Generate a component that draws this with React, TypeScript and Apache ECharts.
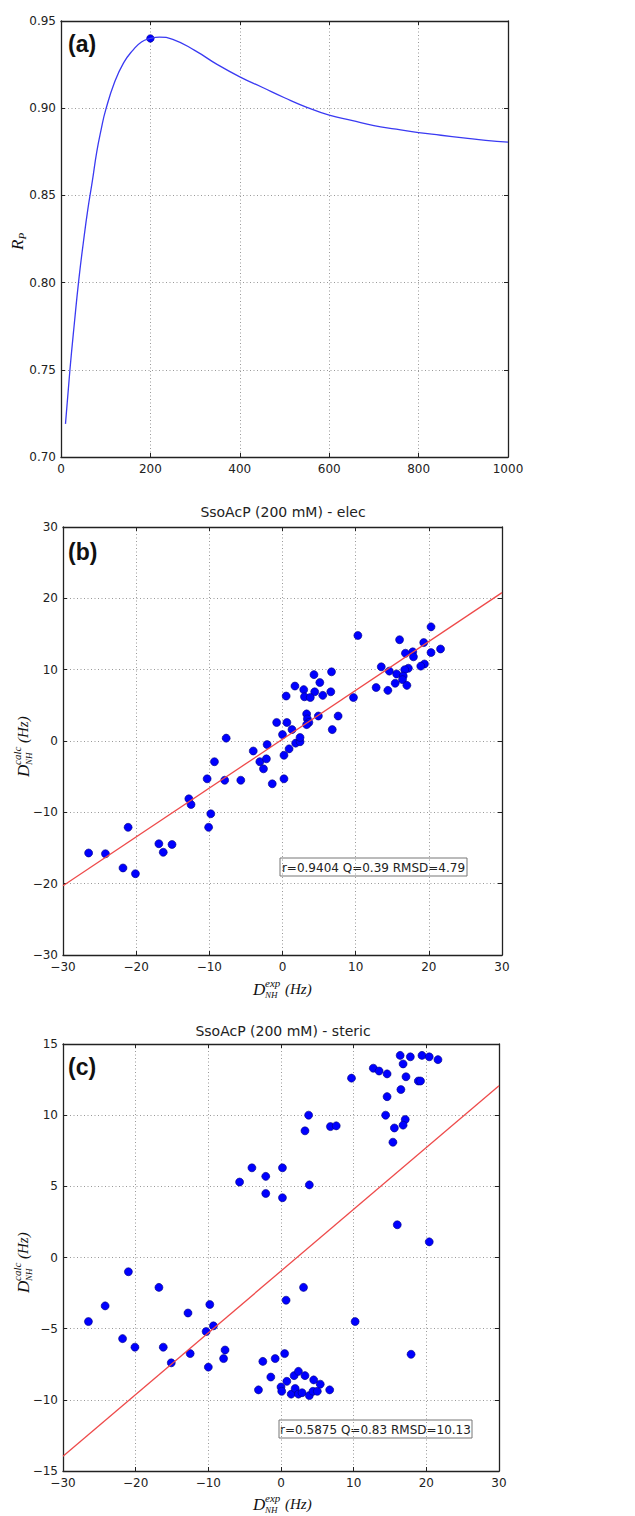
import React, { useEffect, useRef } from 'react';
import * as echarts from 'echarts';

// Panel (a): R_P curve
const rpX = [10, 20, 30, 40, 50, 60, 70, 80, 90, 100, 120, 140, 160, 180, 200, 220, 250, 300, 350, 400, 450, 500, 550, 600, 650, 700, 750, 800, 850, 900, 950, 1000];
const rpY = [0.719, 0.75, 0.777, 0.802, 0.823, 0.842, 0.858, 0.875, 0.888, 0.899, 0.915, 0.926, 0.933, 0.938, 0.940, 0.9408, 0.9395, 0.933, 0.925, 0.918, 0.912, 0.906, 0.9005, 0.896, 0.893, 0.890, 0.888, 0.886, 0.8845, 0.883, 0.8815, 0.8805];
const peakX = [200];
const peakY = [0.940];

// Panel (b): elec
const bX = [10.3, 20.3, 21.6, 20.3, 19.3, 19.4, 18.9, 16.0, 17.8, 16.8, 17.9, 17.2, 16.7, 15.6, 16.5, 16.4, 15.4, 17.0, 14.4, 13.5, 14.6, 12.8, 9.7, 6.7, 6.6, 7.6, 6.8, 4.3, 5.1, 4.4, 5.5, 2.9, 3.0, 3.8, 1.7, 0.5, 3.3, 4.9, 3.4, 3.6, 3.3, -0.8, 0.6, 1.3,
  -26.5, -24.2, -21.8, -20.1, -21.1, -16.9, -16.3, -15.1, -12.8, -12.5, -10.3, -9.8, -10.1, -9.3, -7.9, -7.7, -5.7, -4.0, -3.1, -2.2, -2.6, -2.1, -1.4, 0.0, 0.2, 0.2, 0.9, 1.8, 2.4, 2.4];
const bY = [14.8, 16.0, 12.9, 12.4, 13.8, 10.8, 10.5, 14.2, 12.5, 12.3, 11.8, 10.2, 10.0, 9.4, 9.1, 8.6, 8.1, 7.8, 7.1, 10.4, 9.8, 7.5, 6.1, 9.7, 6.9, 3.5, 1.6, 9.3, 8.2, 6.9, 6.4, 7.2, 6.2, 6.1, 7.7, 6.3, 3.8, 3.5, 3.1, 2.6, 2.3, 2.6, 2.6, 1.6,
  -15.7, -15.8, -17.8, -18.6, -12.1, -14.4, -15.6, -14.5, -8.1, -8.9, -5.3, -10.2, -12.1, -2.9, -5.5, 0.4, -5.5, -1.4, -2.9, -2.5, -3.9, -0.5, -6.0, 0.9, -2.0, -5.3, -1.1, -0.3, -0.1, 0.5];
const bFitX = [-30, 30];
const bFitY = [-20.3, 20.8];

// Panel (c): steric
const cX = [9.7, 12.7, 13.5, 14.6, 16.4, 16.8, 17.8, 19.4, 20.4, 21.6, 17.2, 18.9, 19.2, 16.5, 14.6, 14.4, 17.1, 15.6, 16.8, 15.4, 16.0, 20.4, 3.8, 3.3, 6.8, 7.6, 3.9, -5.7, -4.0, -2.1, -2.1, 0.2, 0.2,
  -26.5, -24.2, -21.8, -20.1, -21.0, -16.8, -16.2, -15.1, -12.8, -12.5, -10.3, -9.8, -9.3, -10.0, -7.7, -7.9, -3.1, -2.5, -1.4, -0.8, 0.0, 0.1, 0.5, 0.7, 3.1, 0.8, 1.4, 1.8, 1.95, 2.4, 2.4, 2.9, 3.3, 3.9, 4.5, 4.4, 5.0, 5.4, 6.7, 10.2, 17.9];
const cY = [12.6, 13.3, 13.1, 12.9, 14.2, 13.6, 14.1, 14.2, 14.1, 13.9, 12.7, 12.4, 12.4, 11.8, 11.3, 10.0, 9.7, 9.1, 9.3, 8.1, 2.3, 1.1, 10.0, 8.9, 9.2, 9.25, 5.1, 5.3, 6.3, 5.7, 4.5, 6.3, 4.2,
  -4.5, -3.4, -5.7, -6.3, -1.0, -2.1, -6.3, -7.4, -3.9, -6.75, -5.2, -3.3, -4.8, -7.7, -6.5, -7.1, -9.3, -7.3, -8.4, -7.1, -9.1, -9.4, -6.75, -3.0, -2.1, -8.7, -9.6, -8.3, -9.2, -8.0, -9.6, -9.5, -8.3, -9.7, -8.6, -9.4, -9.4, -8.9, -9.3, -4.5, -6.8];
const cFitX = [-30, 30];
const cFitY = [-13.97, 12.07];

const titleB = 'SsoAcP (200 mM) - elec';
const titleC = 'SsoAcP (200 mM) - steric';
const statsB = 'r=0.9404 Q=0.39 RMSD=4.79';
const statsC = 'r=0.5875 Q=0.83 RMSD=10.13';

const zip = (xs: number[], ys: number[]) => xs.map((x, i) => [x, ys[i]]);
const minus = (v: number, d = 0) => (d ? v.toFixed(d) : String(v)).replace('-', '\u2212');

const AX = '#222';
const TICK_FONT = { fontFamily: 'DejaVu Sans', fontSize: 12, color: '#222' };

function mainX(gi: number, min: number, max: number, interval: number, dec = 0) {
  return {
    type: 'value', gridIndex: gi, min, max, interval, position: 'bottom',
    axisLine: { show: true, onZero: false, lineStyle: { color: AX, width: 1.3 } },
    axisTick: { show: true, inside: true, length: 4, lineStyle: { color: AX } },
    axisLabel: { ...TICK_FONT, margin: 6, formatter: (v: number) => minus(v, dec) },
    splitLine: { show: true, lineStyle: { color: '#999', type: [1, 2.5], width: 1 } },
  };
}
function mainY(gi: number, min: number, max: number, interval: number, dec = 0) {
  return {
    type: 'value', gridIndex: gi, min, max, interval, position: 'left',
    axisLine: { show: true, onZero: false, lineStyle: { color: AX, width: 1.3 } },
    axisTick: { show: true, inside: true, length: 4, lineStyle: { color: AX } },
    axisLabel: { ...TICK_FONT, margin: 5, formatter: (v: number) => minus(v, dec) },
    splitLine: { show: true, lineStyle: { color: '#999', type: [1, 2.5], width: 1 } },
  };
}
function sideX(gi: number, min: number, max: number, interval: number) {
  return {
    type: 'value', gridIndex: gi, min, max, interval, position: 'top',
    axisLine: { show: true, onZero: false, lineStyle: { color: AX, width: 1.3 } },
    axisTick: { show: true, inside: true, length: 4, lineStyle: { color: AX } },
    axisLabel: { show: false }, splitLine: { show: false },
  };
}
function sideY(gi: number, min: number, max: number, interval: number) {
  return {
    type: 'value', gridIndex: gi, min, max, interval, position: 'right',
    axisLine: { show: true, onZero: false, lineStyle: { color: AX, width: 1.3 } },
    axisTick: { show: true, inside: true, length: 4, lineStyle: { color: AX } },
    axisLabel: { show: false }, splitLine: { show: false },
  };
}

const SERIF = '"Liberation Serif"';
function mathD(x: number, y: number, rot: number, sup: string, sub: string) {
  const supW = sup === 'calc' ? 17 : 15;
  return {
    type: 'group', x, y, rotation: rot,
    children: [
      { type: 'text', x: 0, y: 0, style: { text: 'D', font: `italic 17px ${SERIF}`, fill: '#111', align: 'left', verticalAlign: 'middle' } },
      { type: 'text', x: 12, y: -6, style: { text: sup, font: `italic 11px ${SERIF}`, fill: '#111', align: 'left', verticalAlign: 'middle' } },
      { type: 'text', x: 12, y: 6, style: { text: sub, font: `italic 9px ${SERIF}`, fill: '#111', align: 'left', verticalAlign: 'middle' } },
      { type: 'text', x: 12 + supW + 5, y: 0, style: { text: '(Hz)', font: `italic 15px ${SERIF}`, fill: '#111', align: 'left', verticalAlign: 'middle' } },
    ],
  };
}
function panelLabel(text: string, x: number, y: number) {
  return { type: 'text', x, y, style: { text, font: 'bold 23px "Liberation Sans"', fill: '#111', align: 'left', verticalAlign: 'middle' } };
}
function titleText(text: string, x: number, y: number) {
  return { type: 'text', x, y, style: { text, font: '14px "DejaVu Sans"', fill: '#222', align: 'center', verticalAlign: 'middle' } };
}
function statsBox(text: string, x: number, y: number, w: number, h: number) {
  return {
    type: 'group', x, y,
    children: [
      { type: 'rect', shape: { x: 0, y: 0, width: w, height: h }, style: { fill: '#fff', stroke: '#777', lineWidth: 1 } },
      { type: 'text', x: w / 2, y: h / 2 + 0.5, style: { text, font: '12px "DejaVu Sans"', fill: '#222', align: 'center', verticalAlign: 'middle' } },
    ],
  };
}

const scatterStyle = { color: '#0000ff', borderColor: '#000080', borderWidth: 0.6, opacity: 1 };

export default function App() {
  const ref = useRef<HTMLDivElement>(null);
  useEffect(() => {
    if (!ref.current) return;
    const chart = echarts.init(ref.current, undefined, { renderer: 'svg' });
    chart.setOption({
      animation: false,
      backgroundColor: '#fff',
      grid: [
        { left: 61, top: 21, width: 447, height: 436 },
        { left: 63, top: 527, width: 439, height: 428 },
        { left: 63, top: 1044, width: 436, height: 427 },
      ],
      xAxis: [
        mainX(0, 0, 1000, 200),
        mainX(1, -30, 30, 10),
        mainX(2, -30, 30, 10),
        sideX(0, 0, 1000, 200),
        sideX(1, -30, 30, 10),
        sideX(2, -30, 30, 10),
      ],
      yAxis: [
        mainY(0, 0.7, 0.95, 0.05, 2),
        mainY(1, -30, 30, 10),
        mainY(2, -15, 15, 5),
        sideY(0, 0.7, 0.95, 0.05),
        sideY(1, -30, 30, 10),
        sideY(2, -15, 15, 5),
      ],
      series: [
        { type: 'line', xAxisIndex: 0, yAxisIndex: 0, data: zip(rpX, rpY), smooth: true, showSymbol: false, lineStyle: { color: '#3a3af2', width: 1.3 } },
        { type: 'scatter', xAxisIndex: 0, yAxisIndex: 0, data: zip(peakX, peakY), symbolSize: 7.5, itemStyle: scatterStyle },
        { type: 'line', xAxisIndex: 1, yAxisIndex: 1, data: zip(bFitX, bFitY), showSymbol: false, lineStyle: { color: '#ee4a4a', width: 1.3 } },
        { type: 'scatter', xAxisIndex: 1, yAxisIndex: 1, data: zip(bX, bY), symbolSize: 8, itemStyle: scatterStyle },
        { type: 'line', xAxisIndex: 2, yAxisIndex: 2, data: zip(cFitX, cFitY), showSymbol: false, lineStyle: { color: '#ee4a4a', width: 1.3 } },
        { type: 'scatter', xAxisIndex: 2, yAxisIndex: 2, data: zip(cX, cY), symbolSize: 8, itemStyle: scatterStyle },
      ],
      graphic: [
        panelLabel('(a)', 68, 44),
        panelLabel('(b)', 68, 552),
        panelLabel('(c)', 68, 1067),
        titleText(titleB, 283, 512),
        titleText(titleC, 283, 1031),
        statsBox(statsB, 280, 858, 187, 18),
        statsBox(statsC, 279, 1420, 193, 18),
        {
          type: 'group', x: 17, y: 250, rotation: Math.PI / 2,
          children: [
            { type: 'text', x: 0, y: 0, style: { text: 'R', font: `italic 17px ${SERIF}`, fill: '#111', align: 'left', verticalAlign: 'middle' } },
            { type: 'text', x: 10.5, y: 5, style: { text: 'P', font: `italic 11px ${SERIF}`, fill: '#111', align: 'left', verticalAlign: 'middle' } },
          ],
        },
        mathD(253, 989, 0, 'exp', 'NH'),
        mathD(253, 1504, 0, 'exp', 'NH'),
        mathD(23, 777, Math.PI / 2, 'calc', 'NH'),
        mathD(23, 1293, Math.PI / 2, 'calc', 'NH'),
      ],
    });
    return () => chart.dispose();
  }, []);
  return <div ref={ref} style={{ position: 'absolute', left: 0, top: 0, width: 635, height: 1516, background: '#fff' }} />;
}
